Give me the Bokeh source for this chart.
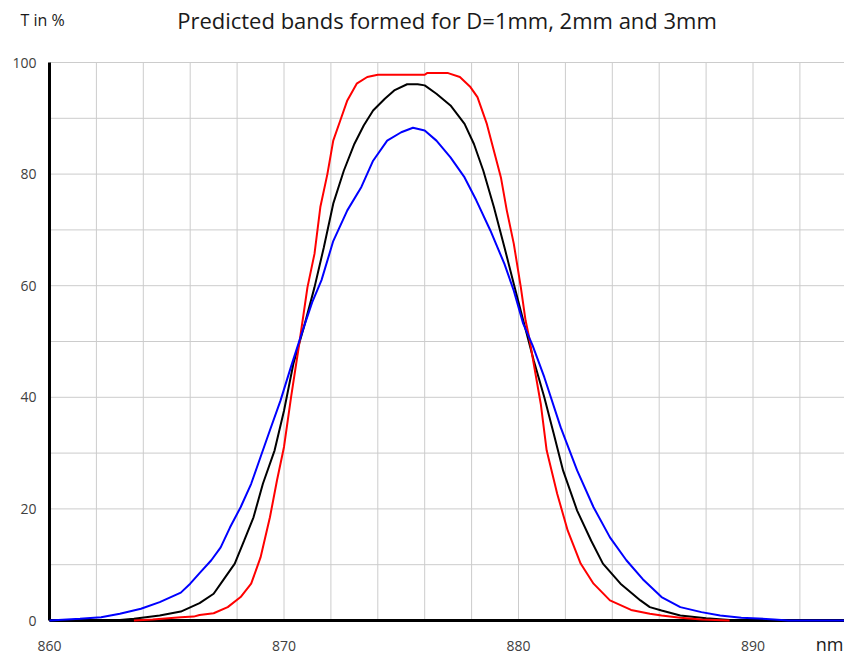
from bokeh.plotting import figure
from bokeh.core.properties import value
from bokeh.embed import file_html
from bokeh.resources import INLINE

# ---- data ----
blue_nm = [860.0, 861.3, 862.2, 863.0, 863.9, 864.7, 865.6, 866.0, 866.4, 866.9, 867.3, 867.7,
           868.15, 868.6, 869.0, 869.4, 869.85, 870.3, 870.8, 871.2, 871.6, 872.1, 872.7, 873.3,
           873.8, 874.4, 875.0, 875.5, 876.0, 876.5, 877.1, 877.7, 878.2, 878.8, 879.4, 879.8,
           880.2, 880.6, 881.1, 881.8, 882.5, 883.2, 883.9, 884.6, 885.3, 886.1, 886.9, 887.8,
           888.6, 889.5, 890.9, 891.5, 893.9]
blue_t = [0.0, 0.3, 0.6, 1.2, 2.1, 3.3, 5.0, 6.6, 8.5, 10.8, 13.1, 16.7,
          20.3, 24.5, 29.3, 34.1, 39.4, 45.5, 52.0, 57.0, 61.0, 68.0, 73.5, 77.7,
          82.4, 86.0, 87.5, 88.3, 87.8, 86.0, 83.0, 79.4, 75.3, 69.9, 63.9, 59.1,
          53.2, 49.3, 43.6, 34.6, 26.9, 20.3, 14.9, 10.8, 7.4, 4.2, 2.4, 1.5,
          0.9, 0.5, 0.2, 0.0, 0.0]

black_nm = [860.0, 863.0, 863.6, 864.7, 865.6, 866.4, 867.0, 867.4, 867.9, 868.3, 868.7, 869.1,
            869.6, 870.0, 870.4, 870.85, 871.3, 871.7, 872.1, 872.55, 873.0, 873.4, 873.8, 874.3,
            874.7, 875.25, 875.7, 876.0, 876.5, 877.1, 877.7, 878.1, 878.5, 878.95, 879.4, 879.8,
            880.2, 880.65, 881.1, 881.5, 881.9, 882.5, 883.1, 883.6, 884.35, 885.2, 885.6, 886.1,
            886.9, 888.0, 889.0, 893.9]
black_t = [0.0, 0.1, 0.3, 0.9, 1.6, 3.1, 4.8, 7.2, 10.2, 14.3, 18.5, 24.5,
           30.5, 37.6, 46.0, 52.6, 59.7, 66.9, 74.7, 80.6, 85.4, 88.7, 91.4, 93.5,
           95.0, 96.1, 96.1, 95.9, 94.4, 92.3, 89.0, 85.4, 80.6, 74.1, 66.9, 60.3,
           53.8, 46.6, 40.0, 33.5, 26.9, 19.7, 14.3, 10.2, 6.6, 3.6, 2.4, 1.8,
           0.9, 0.4, 0.1, 0.0]

red_nm = [863.6, 864.4, 865.6, 866.15, 866.4, 867.0, 867.6, 868.15, 868.6, 869.0, 869.4, 869.7,
          870.0, 870.3, 870.65, 871.0, 871.3, 871.55, 871.85, 872.1, 872.4, 872.7, 873.1, 873.55,
          874.0, 876.0, 876.1, 877.0, 877.5, 877.95, 878.25, 878.65, 878.95, 879.25, 879.5, 879.8,
          880.1, 880.3, 880.45, 880.65, 880.95, 881.2, 881.65, 882.1, 882.65, 883.2, 883.9, 884.8,
          885.6, 886.1, 886.9, 887.8, 889.0]
red_t = [0.0, 0.2, 0.6, 0.7, 1.0, 1.3, 2.4, 4.2, 6.6, 11.3, 18.5, 25.1,
         31.1, 40.0, 49.6, 59.7, 65.7, 74.1, 80.0, 86.0, 89.6, 93.2, 96.2, 97.4,
         97.8, 97.8, 98.1, 98.1, 97.4, 95.6, 93.8, 89.0, 84.2, 79.4, 73.5, 67.5,
         59.7, 53.8, 50.8, 46.0, 38.8, 30.5, 22.7, 16.1, 10.2, 6.6, 3.6, 1.9,
         1.2, 0.9, 0.5, 0.2, 0.0]

x_ticks = [860, 870, 880, 890]
x_tick_labels = ["860", "870", "880", "890"]
y_ticks = [0, 20, 40, 60, 80, 100]
y_tick_labels = ["0", "20", "40", "60", "80", "100"]
x_grid = list(range(862, 894, 2))
y_grid = list(range(10, 101, 10))

title_text = "Predicted bands formed for D=1mm, 2mm and 3mm"
y_title = "T in %"
x_unit = "nm"

# ---- layout: the frame covers the whole canvas; axes are drawn by hand ----
FONT = "Open Sans"
W, H = 844, 657
X0_PX, Y0_PX, Y100_PX = 49, 620, 62          # pixel positions of 860 nm, 0 %, 100 %
px_per_nm = 23.45
px_per_pct = (Y0_PX - Y100_PX) / 100.0
x_min, x_max = x_ticks[0], x_ticks[0] + (W - X0_PX) / px_per_nm
x_start = x_ticks[0] - X0_PX / px_per_nm
y_start = -(H - Y0_PX) / px_per_pct
y_end = Y0_PX / px_per_pct


def nm_at(px):
    return x_ticks[0] + (px - X0_PX) / px_per_nm


def pct_at(py):
    return (Y0_PX - py) / px_per_pct


p = figure(width=W, height=H, x_range=(x_start, x_max), y_range=(y_start, y_end),
           output_backend="svg", toolbar_location=None,
           min_border=0, x_axis_type=None, y_axis_type=None)
p.outline_line_color = None
p.xgrid.visible = False
p.ygrid.visible = False
p.background_fill_color = "white"
p.border_fill_color = "white"

# grid lines
GRID = "#cccccc"
p.segment(x0=x_grid, y0=[y_ticks[0]] * len(x_grid), x1=x_grid, y1=[y_ticks[-1]] * len(x_grid),
          line_color=GRID, line_width=1)
p.segment(x0=[x_min] * len(y_grid), y0=y_grid, x1=[x_max] * len(y_grid), y1=y_grid,
          line_color=GRID, line_width=1)

# axis lines
p.segment(x0=[x_min, x_min], y0=[y_ticks[0], y_ticks[0]], x1=[x_min, x_max],
          y1=[y_ticks[-1], y_ticks[0]], line_color="black", line_width=3)

# curves
p.line(black_nm, black_t, line_color="black", line_width=2)
p.line(red_nm, red_t, line_color="#ff0000", line_width=2)
p.line(blue_nm, blue_t, line_color="#0000ff", line_width=2)

# tick labels
TICK_COLOR = "#404040"
p.text(x=x_ticks, y=[pct_at(645)] * len(x_ticks), text=x_tick_labels,
       text_font=value(FONT), text_font_size="14px", text_color=TICK_COLOR,
       text_align="center", text_baseline="middle")
p.text(x=[nm_at(36)] * len(y_ticks), y=y_ticks, text=y_tick_labels,
       text_font=value(FONT), text_font_size="14px", text_color=TICK_COLOR,
       text_align="right", text_baseline="middle")

# titles
p.text(x=[nm_at(20)], y=[pct_at(19)], text=[y_title],
       text_font=value(FONT), text_font_size="16px", text_color="#1a1a1a",
       text_align="left", text_baseline="middle")
p.text(x=[nm_at(446.5)], y=[pct_at(19)], text=[title_text],
       text_font=value(FONT), text_font_size="22px", text_color="#1a1a1a",
       text_align="center", text_baseline="middle")
p.text(x=[nm_at(843)], y=[pct_at(643)], text=[x_unit],
       text_font=value(FONT), text_font_size="18px", text_color="#1a1a1a",
       text_align="right", text_baseline="middle")

open("out.html", "w").write(file_html(p, INLINE))
